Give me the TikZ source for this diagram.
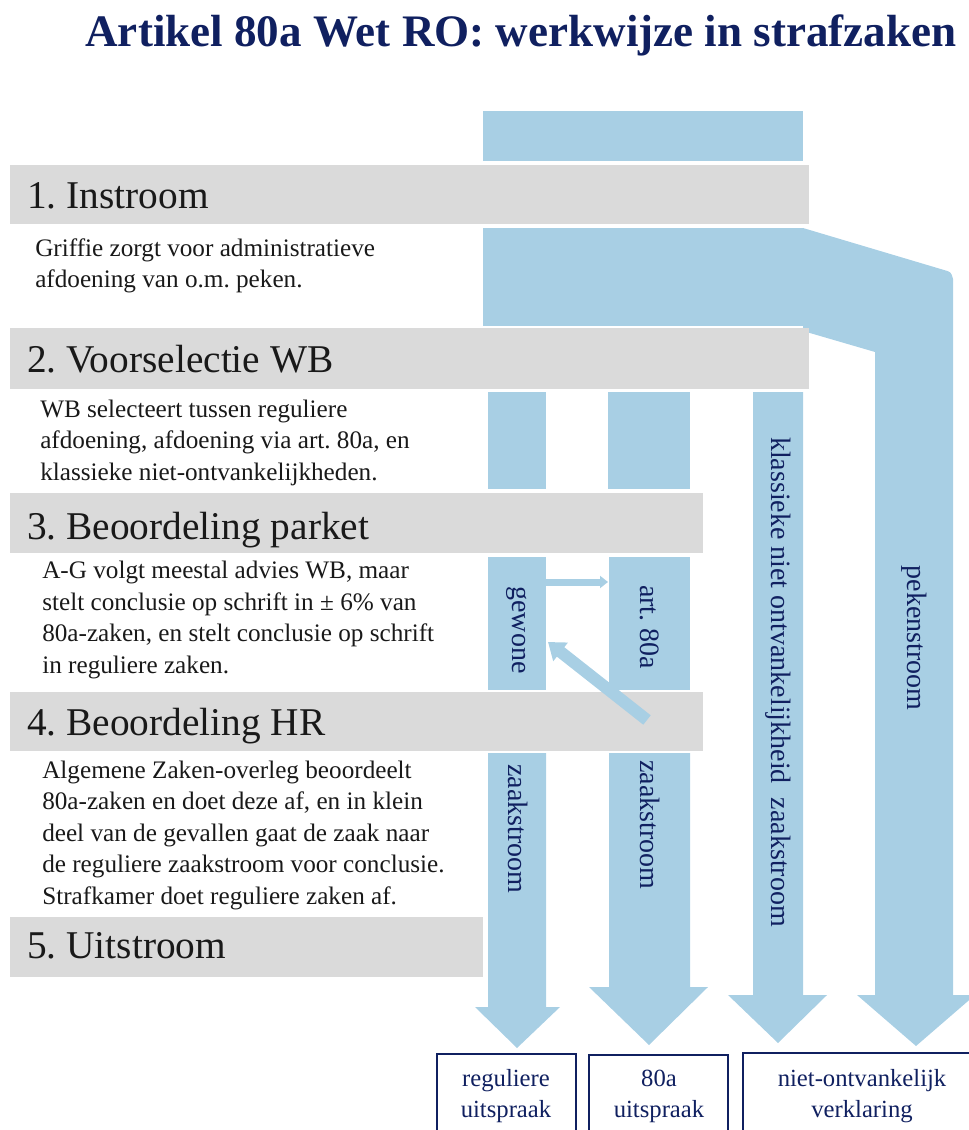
\documentclass[tikz,border=0pt]{standalone}
\usepackage{fontspec}
\setmainfont{Liberation Serif}
\usetikzlibrary{arrows.meta}
\definecolor{flow}{RGB}{168,207,228}
\definecolor{band}{RGB}{218,218,218}
\definecolor{navy}{RGB}{16,32,96}
\definecolor{bodytext}{RGB}{25,25,25}
\begin{document}
\frenchspacing
\begin{tikzpicture}[x=0.75pt,y=-0.75pt,
  bandfill/.style={fill=band},
  flowfill/.style={fill=flow},
  titlestyle/.style={anchor=base, inner sep=0, text=navy, font=\bfseries\fontsize{33.8}{40}\selectfont},
  heading/.style={anchor=base west, inner sep=0, text=bodytext, font=\fontsize{29.5}{35}\selectfont},
  body/.style={anchor=base west, inner sep=0, align=left, text=bodytext, font=\fontsize{18.9}{23.6}\selectfont},
  vlabel/.style={rotate=-90, inner sep=0, text=navy, font=\fontsize{21}{25}\selectfont},
  outbox/.style={draw=navy, line width=1.9pt},
  outtext/.style={anchor=base, inner sep=0, align=center, text=navy, font=\fontsize{18.5}{23.25}\selectfont},
  smallarrow/.style={draw=flow, line width=5.25pt, -{Triangle[length=6pt,width=9pt]}},
  bigarrow/.style={draw=flow, line width=9pt, -{Triangle[length=12pt,width=17pt]}},
  ]
\useasboundingbox (0,0) rectangle (969,1130);
\clip (0,0) rectangle (969,1130);

% title
\node[titlestyle] (title) at (521,47) {Artikel 80a Wet RO: werkwijze in strafzaken};

% blue flows
\fill[flowfill] (483,111) rectangle (803,161);
\fill[flowfill] (483,228) rectangle (803,326);
\fill[flowfill] (803,228) -- (944,270) .. controls (951,272) .. (953,279) -- (953,995)
  -- (975,995) -- (916,1046) -- (857,995) -- (875,995) -- (875,352) -- (803,331) -- cycle;
\fill[flowfill] (488,392) rectangle (546,489);
\fill[flowfill] (608,392) rectangle (690,489);
\fill[flowfill] (488,557) rectangle (546,690);
\fill[flowfill] (609,557) rectangle (690,690);
\fill[flowfill] (753,392) -- (803,392) -- (803,995) -- (827,995) -- (778,1043) -- (728,995) -- (753,995) -- cycle;
\fill[flowfill] (488,753) -- (546,753) -- (546,1007) -- (560,1007) -- (517,1048) -- (475,1007) -- (488,1007) -- cycle;
\fill[flowfill] (609,753) -- (690,753) -- (690,987) -- (708,987) -- (649,1045) -- (589,987) -- (609,987) -- cycle;

% grey bands
\fill[bandfill] (10,165) rectangle (809,224);
\fill[bandfill] (10,328) rectangle (809,389);
\fill[bandfill] (10,493) rectangle (703,553);
\fill[bandfill] (10,692) rectangle (703,751);
\fill[bandfill] (10,917) rectangle (483,977);

% transfer arrows
\coordinate (hA) at (546,582);
\coordinate (hB) at (608,582);
\draw[smallarrow] (hA) -- (hB);
\coordinate (dA) at (647,720);
\coordinate (dB) at (548,642);
\draw[bigarrow] (dA) -- (dB);

% headings
\node[heading] (h1) at (27,209) {1. Instroom};
\node[heading] (h2) at (27,372) {2. Voorselectie WB};
\node[heading] (h3) at (27,539) {3. Beoordeling parket};
\node[heading] (h4) at (27,735) {4. Beoordeling HR};
\node[heading] (h5) at (27,958) {5. Uitstroom};

% body texts (anchor = baseline of last line)
\node[body] (b1) at (35,288) {Griffie zorgt voor administratieve\\afdoening van o.m. peken.};
\node[body] (b2) at (40,480) {WB selecteert tussen reguliere\\afdoening, afdoening via art. 80a, en\\klassieke niet-ontvankelijkheden.};
\node[body] (b3) at (42,673) {A-G volgt meestal advies WB, maar\\stelt conclusie op schrift in ± 6\% van\\80a-zaken, en stelt conclusie op schrift\\in reguliere zaken.};
\node[body] (b4) at (42,904) {Algemene Zaken-overleg beoordeelt\\80a-zaken en doet deze af, en in klein\\deel van de gevallen gaat de zaak naar\\de reguliere zaakstroom voor conclusie.\\Strafkamer doet reguliere zaken af.};

% vertical labels
\node[vlabel] (lg) at (517,630) {gewone};
\node[vlabel] (la) at (650,627) {art. 80a};
\node[vlabel] (lz1) at (518,829) {zaakstroom};
\node[vlabel] (lz2) at (650,825) {zaakstroom};
\node[vlabel] (lk) at (778,682) {klassieke niet ontvankelijkheid~ zaakstroom};
\node[vlabel] (lp) at (914,638) {pekenstroom};

% outcome boxes
\draw[outbox] (437,1054) rectangle (576,1145);
\draw[outbox] (589,1055) rectangle (728,1145);
\draw[outbox] (743,1053) rectangle (981,1145);
\node[outtext] (o1) at (506,1117) {reguliere\\uitspraak};
\node[outtext] (o2) at (659,1117) {80a\\uitspraak};
\node[outtext] (o3) at (862,1117) {niet-ontvankelijk\\verklaring};
\end{tikzpicture}
\end{document}
